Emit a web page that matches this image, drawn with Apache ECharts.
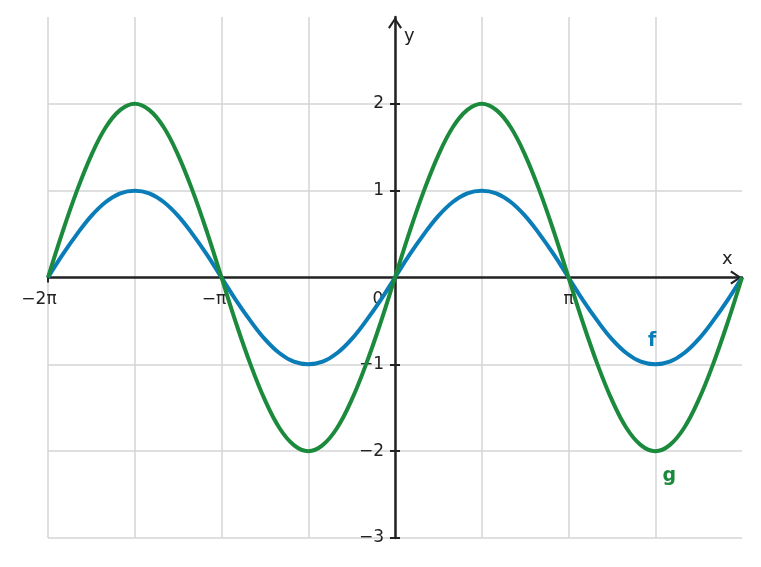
<!DOCTYPE html>
<html>
<head>
<meta charset="utf-8">
<script src="https://cdn.jsdelivr.net/npm/echarts@6/dist/echarts.min.js"></script>
<style>
html,body{margin:0;padding:0;background:#fff;}
#chart{width:761px;height:567px;}
</style>
</head>
<body>
<div id="chart"></div>
<script>
// x positions in units of pi
const xPi = [-2, -1.917, -1.833, -1.75, -1.667, -1.583, -1.5, -1.417, -1.333, -1.25, -1.167, -1.083,
  -1, -0.917, -0.833, -0.75, -0.667, -0.583, -0.5, -0.417, -0.333, -0.25, -0.167, -0.083,
  0, 0.083, 0.167, 0.25, 0.333, 0.417, 0.5, 0.583, 0.667, 0.75, 0.833, 0.917,
  1, 1.083, 1.167, 1.25, 1.333, 1.417, 1.5, 1.583, 1.667, 1.75, 1.833, 1.917, 2];
const fValues = [0, 0.26, 0.5, 0.71, 0.87, 0.97, 1, 0.97, 0.87, 0.71, 0.5, 0.26,
  0, -0.26, -0.5, -0.71, -0.87, -0.97, -1, -0.97, -0.87, -0.71, -0.5, -0.26,
  0, 0.26, 0.5, 0.71, 0.87, 0.97, 1, 0.97, 0.87, 0.71, 0.5, 0.26,
  0, -0.26, -0.5, -0.71, -0.87, -0.97, -1, -0.97, -0.87, -0.71, -0.5, -0.26, 0];
const gValues = [0, 0.52, 1, 1.41, 1.73, 1.93, 2, 1.93, 1.73, 1.41, 1, 0.52,
  0, -0.52, -1, -1.41, -1.73, -1.93, -2, -1.93, -1.73, -1.41, -1, -0.52,
  0, 0.52, 1, 1.41, 1.73, 1.93, 2, 1.93, 1.73, 1.41, 1, 0.52,
  0, -0.52, -1, -1.41, -1.73, -1.93, -2, -1.93, -1.73, -1.41, -1, -0.52, 0];
const seriesNames = ['f', 'g'];
const labelAtXPi = 1.5;
const xTickLabels = {'-2': '−2π', '-1': '−π', '0': '0', '1': 'π'};
const xTickValues = [-2, -1, 0, 1];
const yTickValues = [-3, -2, -1, 1, 2];

const FONT = 'DejaVu Sans';
const AXIS_COLOR = '#222222';
const GRID_COLOR = '#d4d4d4';
const F_COLOR = '#0a7db8';
const G_COLOR = '#1b8a3c';
const chevron = 'path://M7 0 L14 10.3 L12.2 11.6 L7 3.6 L1.8 11.6 L0 10.3 Z';

function build(values, name, color, labelCfg) {
  return xPi.map(function (x, i) {
    const item = {value: [x, values[i]]};
    if (x === labelAtXPi) {
      item.label = Object.assign({
        show: true, formatter: name, color: color, fontFamily: FONT,
        fontSize: 19, fontWeight: 'bold'
      }, labelCfg);
    }
    return item;
  });
}

const richX = {
  a: {padding: [0, 18, 0, 0]},
  b: {padding: [0, 15, 0, 0]},
  c: {padding: [0, 34, 0, 0]},
  d: {padding: [0, 0, 0, 0]}
};
const richKey = {'-2': 'a', '-1': 'b', '0': 'c', '1': 'd'};

const chart = echarts.init(document.getElementById('chart'));
const lineStyleAxis = {color: AXIS_COLOR, width: 2.5};
chart.setOption({
  animation: false,
  backgroundColor: '#ffffff',
  grid: {left: 48, right: 19, top: 17, bottom: 29, containLabel: false, outerBoundsMode: 'none'},
  xAxis: [{
    id: 'xMain', type: 'value', min: -2, max: 2, interval: 0.5, position: 'bottom',
    name: 'x', nameLocation: 'end', nameGap: -20,
    nameTextStyle: {fontFamily: FONT, fontSize: 18, color: AXIS_COLOR, align: 'left', verticalAlign: 'bottom', padding: [0, 0, 9, 0]},
    axisLine: {show: true, onZero: false, symbol: ['none', chevron], symbolSize: [14, 12], symbolOffset: [0, -6],
      lineStyle: lineStyleAxis},
    axisTick: {show: false},
    axisLabel: {
      show: true, margin: 14, fontFamily: FONT, fontSize: 17, color: AXIS_COLOR,
      formatter: function (v) {
        const k = String(Math.round(v * 2) / 2);
        if (xTickLabels[k] === undefined) return '';
        return '{' + richKey[k] + '|' + xTickLabels[k] + '}';
      },
      rich: richX
    },
    splitLine: {show: true, showMaxLine: false, lineStyle: {color: GRID_COLOR, width: 1.5}}
  }, {
    id: 'xTicks', type: 'value', min: -2, max: 2, interval: 0.5, position: 'bottom',
    axisLine: {show: false, onZero: false},
    axisTick: {show: true, length: 5, customValues: xTickValues, lineStyle: {color: AXIS_COLOR, width: 2}},
    axisLabel: {show: false},
    splitLine: {show: false}
  }],
  yAxis: [{
    id: 'yMain', type: 'value', min: -3, max: 3, interval: 1, position: 'left',
    name: 'y', nameLocation: 'end', nameGap: -19,
    nameTextStyle: {fontFamily: FONT, fontSize: 18, color: AXIS_COLOR, align: 'left', verticalAlign: 'middle', padding: [0, 0, 0, 9]},
    axisLine: {show: true, onZero: false, symbol: ['none', chevron], symbolSize: [14, 12], symbolOffset: [0, -6],
      lineStyle: lineStyleAxis},
    axisTick: {show: true, length: 5, customValues: yTickValues, lineStyle: {color: AXIS_COLOR, width: 2}},
    axisLabel: {
      show: true, margin: 11, fontFamily: FONT, fontSize: 17, color: AXIS_COLOR,
      formatter: function (v) {
        if (yTickValues.indexOf(v) < 0) return '';
        return v < 0 ? '\u2212' + (-v) : String(v);
      }
    },
    splitLine: {show: true, lineStyle: {color: GRID_COLOR, width: 1.5}}
  }, {
    id: 'yTicks', type: 'value', min: -3, max: 3, interval: 1, position: 'right',
    axisLine: {show: false, onZero: false},
    axisTick: {show: true, length: 5, customValues: yTickValues, lineStyle: {color: AXIS_COLOR, width: 2}},
    axisLabel: {show: false},
    splitLine: {show: false}
  }],
  series: [{
    name: seriesNames[0], type: 'line', smooth: 0.4, z: 5,
    symbol: 'circle', symbolSize: 0, showSymbol: true,
    lineStyle: {color: F_COLOR, width: 4}, itemStyle: {color: F_COLOR},
    label: {show: false},
    data: build(fValues, seriesNames[0], F_COLOR, {position: 'top', distance: 14, offset: [-3, 0]})
  }, {
    name: seriesNames[1], type: 'line', smooth: 0.4, z: 5,
    symbol: 'circle', symbolSize: 0, showSymbol: true,
    lineStyle: {color: G_COLOR, width: 4}, itemStyle: {color: G_COLOR},
    label: {show: false},
    data: build(gValues, seriesNames[1], G_COLOR, {position: 'bottom', distance: 15, offset: [14, 0]})
  }]
});

// Move the axes so they cross at the origin (computed from the grid's own scales)
const pOrigin = chart.convertToPixel({gridIndex: 0}, [0, 0]);
const pMin = chart.convertToPixel({gridIndex: 0}, [-2, -3]);
const pMax = chart.convertToPixel({gridIndex: 0}, [2, 3]);
const xOff = -(pMin[1] - pOrigin[1]);
const yLeftOff = -(pOrigin[0] - pMin[0]);
const yRightOff = -(pMax[0] - pOrigin[0]);
chart.setOption({
  xAxis: [{id: 'xMain', offset: xOff}, {id: 'xTicks', offset: xOff}],
  yAxis: [{id: 'yMain', offset: yLeftOff}, {id: 'yTicks', offset: yRightOff}]
});
</script>
</body>
</html>
